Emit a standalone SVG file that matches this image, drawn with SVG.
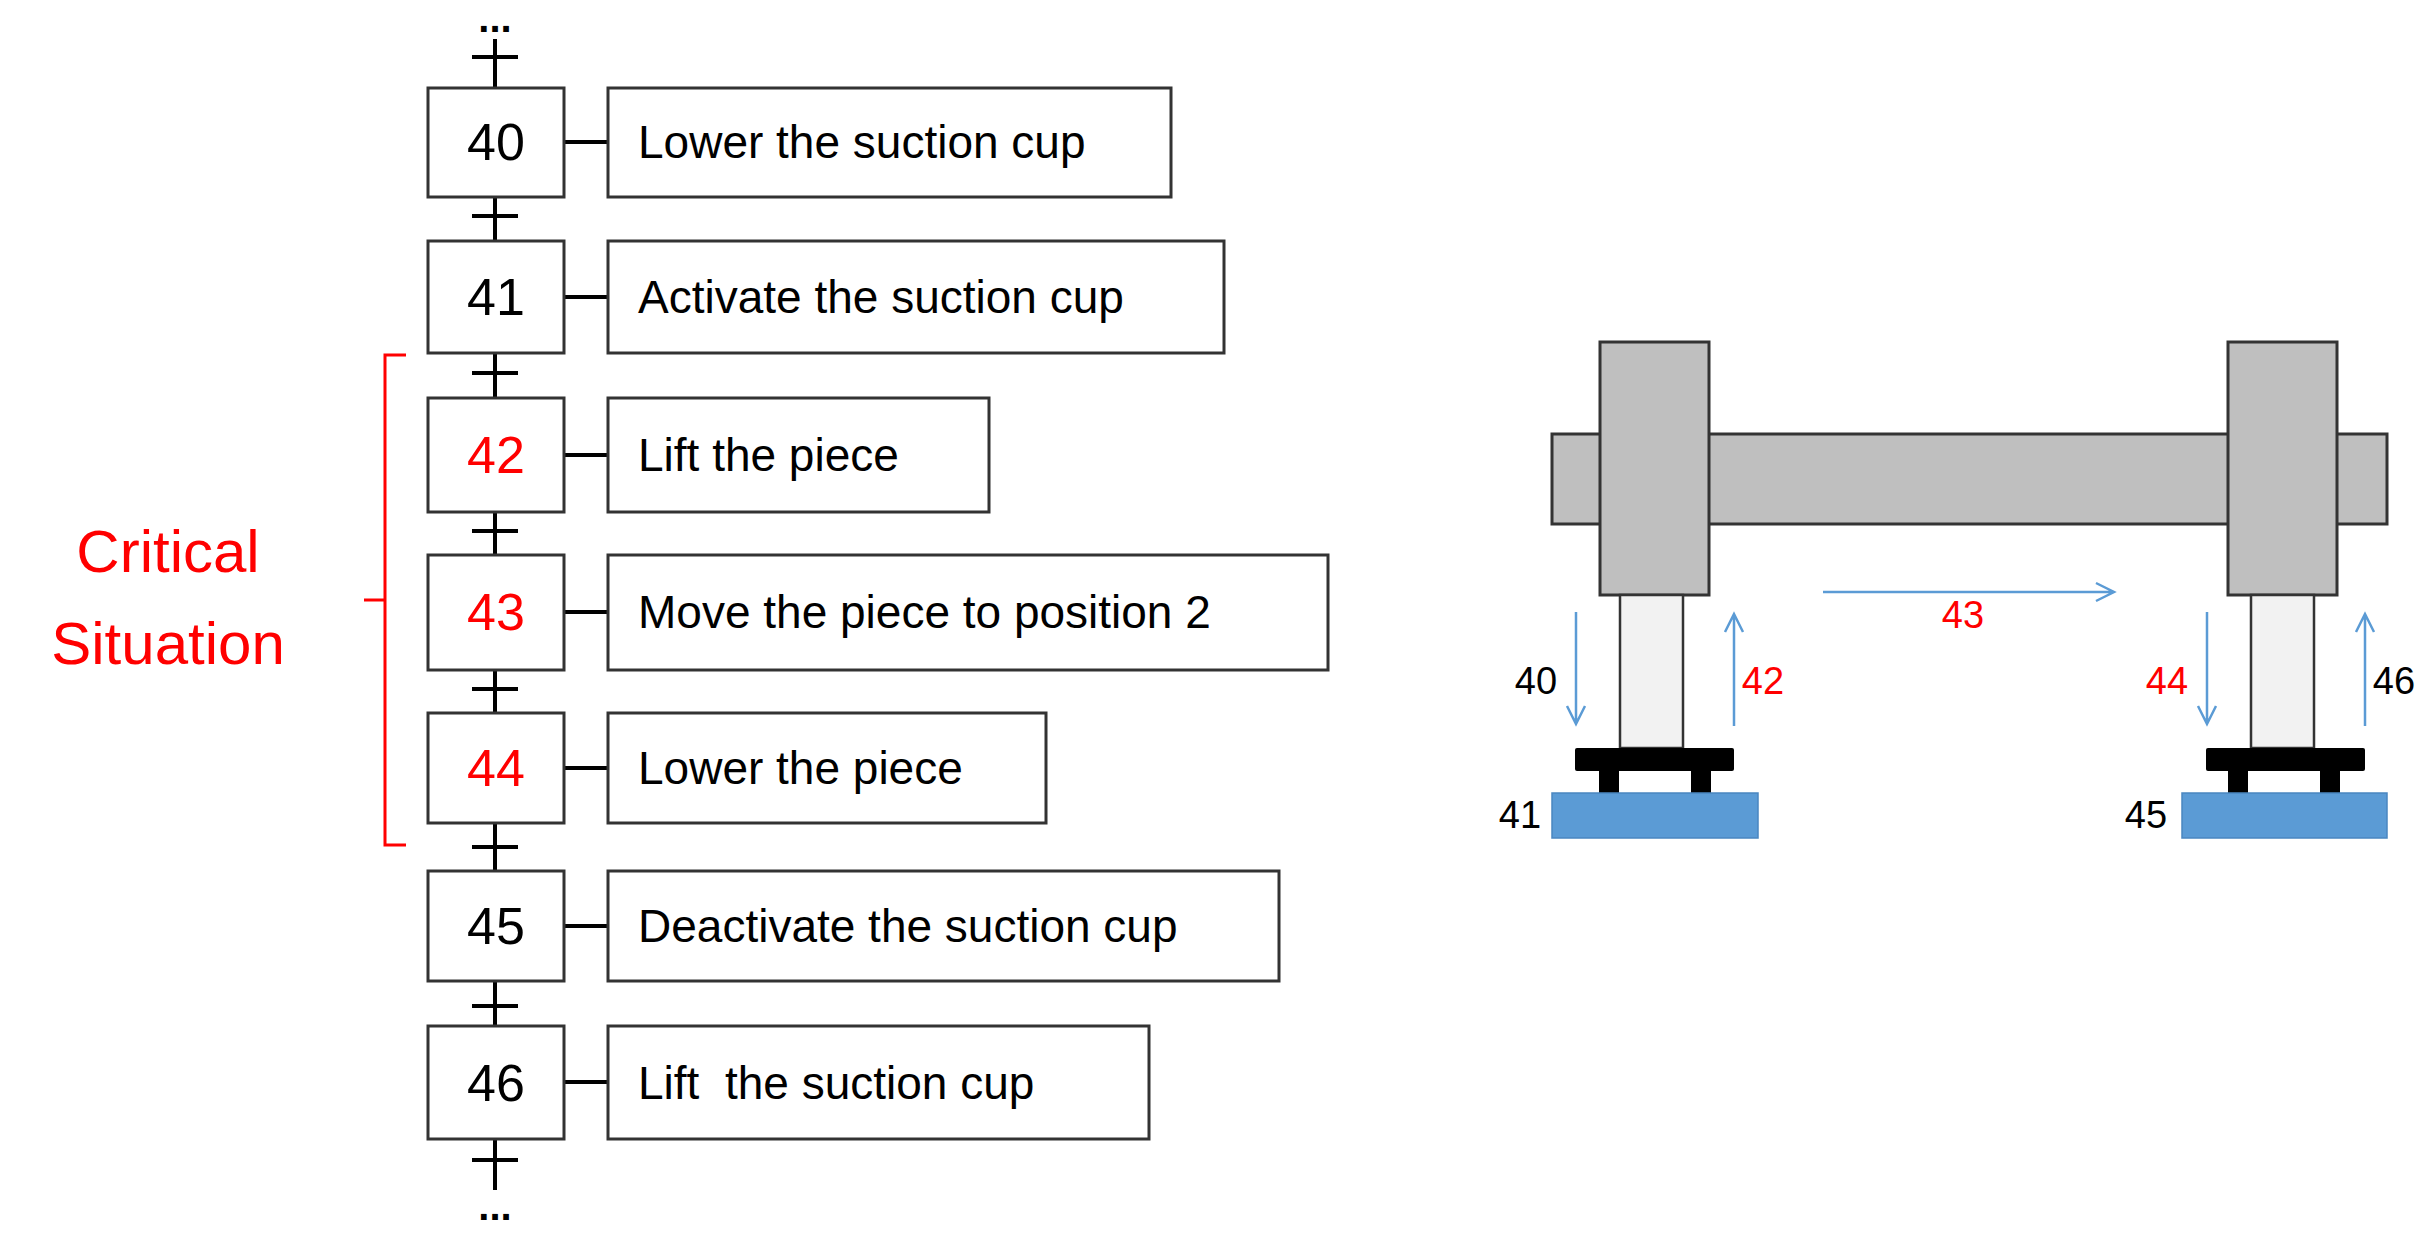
<svg xmlns="http://www.w3.org/2000/svg" width="2430" height="1244" viewBox="0 0 2430 1244">
<style>
.b{fill:#fff;stroke:#333;stroke-width:3}
.n{font-family:"Liberation Sans",Arial,sans-serif;font-size:52px;text-anchor:middle}
.d{font-family:"Liberation Sans",Arial,sans-serif;font-size:40px;font-weight:bold;text-anchor:middle}
.t{font-family:"Liberation Sans",Arial,sans-serif;font-size:46px}
.l{font-family:"Liberation Sans",Arial,sans-serif;font-size:38px;text-anchor:middle}
.k{stroke:#000;stroke-width:4;fill:none}
.g{fill:#bfbfbf;stroke:#333;stroke-width:3}
.a{stroke:#5b9bd5;stroke-width:2.5;fill:none}
.r{fill:#ff0000}
</style>
<rect width="2430" height="1244" fill="#fff"/>
<g id="connectors" class="k">
<path d="M495 39V88M472 57H518"/>
<path d="M495 197V240M472 216H518"/>
<path d="M495 353V398M472 373H518"/>
<path d="M495 512V555M472 531H518"/>
<path d="M495 670V713M472 689H518"/>
<path d="M495 823V871M472 847H518"/>
<path d="M495 981V1026M472 1006H518"/>
<path d="M495 1139V1190M472 1160H518"/>
<path d="M564 142H608M564 297H608M564 455H608M564 612H608M564 768H608M564 926H608M564 1082H608"/>
</g>
<text class="d" x="495" y="32">...</text>
<text class="d" x="495" y="1220">...</text>
<g id="s40"><rect class="b" x="428" y="88" width="136" height="109"/><text class="n" x="496" y="160">40</text><rect class="b" x="608" y="88" width="563" height="109"/><text class="t" x="638" y="158">Lower the suction cup</text></g>
<g id="s41"><rect class="b" x="428" y="241" width="136" height="112"/><text class="n" x="496" y="315">41</text><rect class="b" x="608" y="241" width="616" height="112"/><text class="t" x="638" y="313">Activate the suction cup</text></g>
<g id="s42"><rect class="b" x="428" y="398" width="136" height="114"/><text class="n r" x="496" y="473">42</text><rect class="b" x="608" y="398" width="381" height="114"/><text class="t" x="638" y="471">Lift the piece</text></g>
<g id="s43"><rect class="b" x="428" y="555" width="136" height="115"/><text class="n r" x="496" y="630">43</text><rect class="b" x="608" y="555" width="720" height="115"/><text class="t" x="638" y="628">Move the piece to position 2</text></g>
<g id="s44"><rect class="b" x="428" y="713" width="136" height="110"/><text class="n r" x="496" y="786">44</text><rect class="b" x="608" y="713" width="438" height="110"/><text class="t" x="638" y="784">Lower the piece</text></g>
<g id="s45"><rect class="b" x="428" y="871" width="136" height="110"/><text class="n" x="496" y="944">45</text><rect class="b" x="608" y="871" width="671" height="110"/><text class="t" x="638" y="942">Deactivate the suction cup</text></g>
<g id="s46"><rect class="b" x="428" y="1026" width="136" height="113"/><text class="n" x="496" y="1101">46</text><rect class="b" x="608" y="1026" width="541" height="113"/><text class="t" x="638" y="1099" xml:space="preserve">Lift  the suction cup</text></g>
<g id="critical">
<path d="M406 355H385V845H406M385 600H364" stroke="#ff0000" stroke-width="3" fill="none"/>
<text class="r" font-family="Liberation Sans,Arial,sans-serif" font-size="60" text-anchor="middle" x="168" y="572">Critical</text>
<text class="r" font-family="Liberation Sans,Arial,sans-serif" font-size="60" text-anchor="middle" x="168" y="664">Situation</text>
</g>
<g id="machine">
<rect class="g" x="1552" y="434" width="835" height="90"/>
<rect class="g" x="1600" y="342" width="109" height="253"/>
<rect class="g" x="2228" y="342" width="109" height="253"/>
<rect x="1620" y="595" width="63" height="153" fill="#f2f2f2" stroke="#333" stroke-width="2.5"/>
<rect x="2251" y="595" width="63" height="153" fill="#f2f2f2" stroke="#333" stroke-width="2.5"/>
<rect x="1575" y="748" width="159" height="23" fill="#000" rx="2"/>
<rect x="1599" y="771" width="20" height="22" fill="#000"/><rect x="1691" y="771" width="20" height="22" fill="#000"/>
<rect x="2206" y="748" width="159" height="23" fill="#000" rx="2"/>
<rect x="2228" y="771" width="20" height="22" fill="#000"/><rect x="2320" y="771" width="20" height="22" fill="#000"/>
<rect x="1552" y="793" width="206" height="45" fill="#5b9bd5" stroke="#4a86c0" stroke-width="1.5"/>
<rect x="2182" y="793" width="205" height="45" fill="#5b9bd5" stroke="#4a86c0" stroke-width="1.5"/>
</g>
<g id="motions" class="a">
<path d="M1576 612V724M1567 706L1576 724L1585 706"/>
<path d="M1734 726V614M1725 632L1734 614L1743 632"/>
<path d="M1823 592H2114M2096 583L2114 592L2096 601"/>
<path d="M2207 612V724M2198 706L2207 724L2216 706"/>
<path d="M2365 726V614M2356 632L2365 614L2374 632"/>
</g>
<text class="l" x="1536" y="694">40</text>
<text class="l r" x="1763" y="694">42</text>
<text class="l r" x="1963" y="628">43</text>
<text class="l r" x="2167" y="694">44</text>
<text class="l" x="2394" y="694">46</text>
<text class="l" x="1520" y="828">41</text>
<text class="l" x="2146" y="828">45</text>
</svg>
